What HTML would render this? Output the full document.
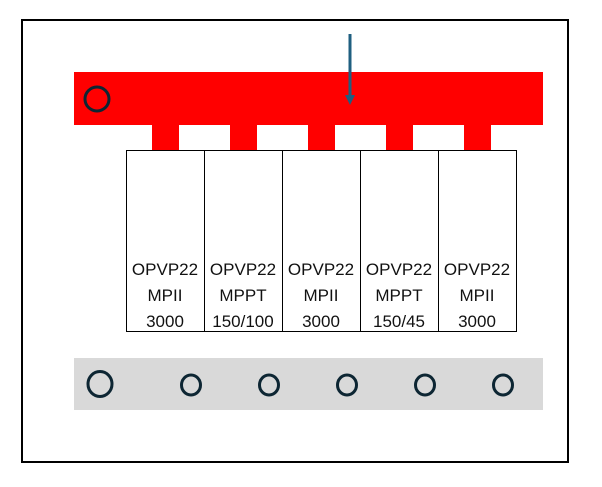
<!DOCTYPE html>
<html><head><style>
body{margin:0;background:#fff}
svg text{font-family:"Liberation Sans",sans-serif;font-size:17px;fill:#111;text-anchor:middle}
</style></head><body>
<svg width="602" height="482" xmlns="http://www.w3.org/2000/svg">
<rect x="0" y="0" width="602" height="482" fill="#fff"/>
<rect x="22" y="20" width="546" height="442" fill="none" stroke="#000" stroke-width="2"/>
<rect x="74" y="72" width="469" height="53" fill="#ff0000"/>
<g fill="#ff0000">
<rect x="152" y="125" width="27" height="26"/>
<rect x="230" y="125" width="27" height="26"/>
<rect x="308" y="125" width="27" height="26"/>
<rect x="386" y="125" width="27" height="26"/>
<rect x="464" y="125" width="27" height="26"/>
</g>
<g fill="#fff" stroke="#000" stroke-width="1">
<rect x="126.5" y="150.5" width="78" height="181"/>
<rect x="204.5" y="150.5" width="78" height="181"/>
<rect x="282.5" y="150.5" width="78" height="181"/>
<rect x="360.5" y="150.5" width="78" height="181"/>
<rect x="438.5" y="150.5" width="78" height="181"/>
</g>
<g>
<text x="165" y="275">OPVP22</text><text x="165" y="301">MPII</text><text x="165" y="327">3000</text>
<text x="243" y="275">OPVP22</text><text x="243" y="301">MPPT</text><text x="243" y="327">150/100</text>
<text x="321" y="275">OPVP22</text><text x="321" y="301">MPII</text><text x="321" y="327">3000</text>
<text x="399" y="275">OPVP22</text><text x="399" y="301">MPPT</text><text x="399" y="327">150/45</text>
<text x="477" y="275">OPVP22</text><text x="477" y="301">MPII</text><text x="477" y="327">3000</text>
</g>
<rect x="74" y="358" width="469" height="52" fill="#d9d9d9"/>
<g fill="none" stroke="#0d2633" stroke-width="3">
<ellipse cx="97" cy="99" rx="12" ry="12"/>
<ellipse cx="100" cy="384" rx="12" ry="12.5"/>
<ellipse cx="191" cy="385" rx="9.5" ry="10"/>
<ellipse cx="269" cy="385" rx="9.5" ry="10"/>
<ellipse cx="347" cy="385" rx="9.5" ry="10"/>
<ellipse cx="425" cy="385" rx="9.5" ry="10"/>
<ellipse cx="503" cy="385" rx="9.5" ry="10"/>
</g>
<line x1="350" y1="34" x2="350" y2="96" stroke="#1f5f80" stroke-width="3"/>
<polygon points="345,95 355,95 350,105" fill="#1f5f80"/>
</svg>
</body></html>
